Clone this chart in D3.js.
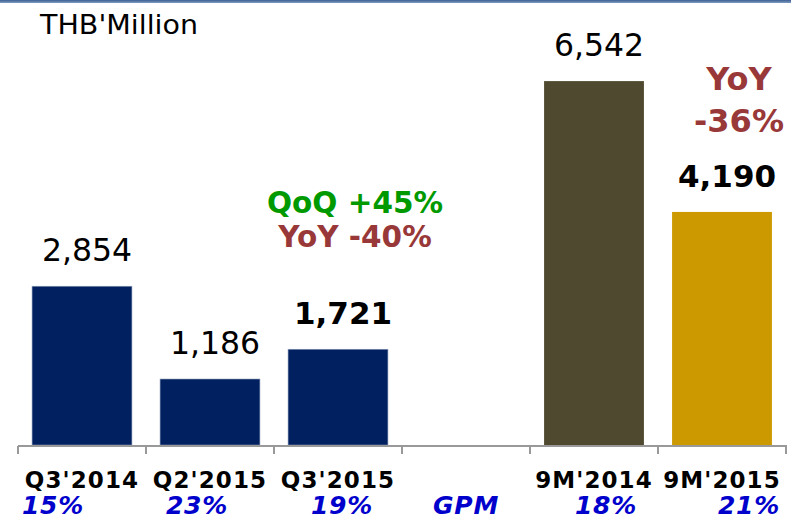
<!DOCTYPE html>
<html>
<head>
<meta charset="utf-8">
<script src="https://cdn.jsdelivr.net/npm/d3@7"></script>
<style>
  html, body { margin: 0; padding: 0; background: #fff; }
  svg { display: block; font-family: "DejaVu Sans", Verdana, sans-serif; }
</style>
</head>
<body>
<svg id="chart" width="791" height="519"></svg>
<script>
// ---- data ----
const categories = ["Q3'2014", "Q2'2015", "Q3'2015", "", "9M'2014", "9M'2015"];
const revenue    = [2854, 1186, 1721, null, 6542, 4190];
const valueLabels = ["2,854", "1,186", "1,721", "", "6,542", "4,190"];
const boldLabel  = [false, false, true, false, false, true];
const gpmLabels  = ["15%", "23%", "19%", "GPM", "18%", "21%"];
const unitLabel  = "THB'Million";
const qoqText    = "QoQ +45%";
const yoyQText   = "YoY -40%";
const yoy9MText  = ["YoY", "-36%"];

// ---- styling ----
const barColors = ["#00205F", "#00205F", "#00205F", "none", "#4F4A2F", "#CC9900"];
const gpmOffset = [-29, -13, 4, 0, 12, 27]; // label nudges as laid out in the source

const svg = d3.select("#chart");
const W = 791, H = 519;

// top border band
const grad = svg.append("defs").append("linearGradient")
  .attr("id", "topg").attr("x1", 0).attr("x2", 0).attr("y1", 0).attr("y2", 1);
grad.append("stop").attr("offset", "0%").attr("stop-color", "#3d5f93");
grad.append("stop").attr("offset", "100%").attr("stop-color", "#7f9cc4");
svg.append("rect").attr("x", 0).attr("y", 0).attr("width", W).attr("height", 3)
  .attr("fill", "url(#topg)");

const x = d3.scaleBand().domain(d3.range(categories.length))
  .range([18, 786]).paddingInner(0.22).paddingOuter(0.11);
const y = d3.scaleLinear().domain([0, 8000]).range([445, 0]);

// bars
const idx = d3.range(categories.length).filter(i => revenue[i] != null);
svg.append("g").selectAll("rect").data(idx).join("rect")
  .attr("x", i => x(i))
  .attr("width", x.bandwidth())
  .attr("y", i => y(revenue[i]))
  .attr("height", i => y(0) - y(revenue[i]))
  .attr("fill", i => barColors[i])
  .attr("stroke", i => i < 3 ? "#8795b5" : "none")
  .attr("stroke-width", 0.6);

// axis
const axisG = svg.append("g").attr("transform", `translate(0,${y(0) + 1})`);
axisG.append("line").attr("x1", 18).attr("x2", 787).attr("y1", 0).attr("y2", 0)
  .attr("stroke", "#999").attr("stroke-width", 2);
const tickX = d3.range(categories.length + 1).map(k => 18 + k * x.step());
axisG.selectAll("line.tick").data(tickX).join("line").attr("class", "tick")
  .attr("x1", d => d).attr("x2", d => d).attr("y1", 0).attr("y2", 8)
  .attr("stroke", "#999").attr("stroke-width", 2);

// category labels
svg.append("g").selectAll("text").data(d3.range(categories.length)).join("text")
  .attr("x", i => x(i) + x.bandwidth() / 2)
  .attr("y", 488)
  .attr("text-anchor", "middle")
  .attr("font-size", 23).attr("font-weight", "bold")
  .attr("letter-spacing", 1.1)
  .attr("fill", "#000")
  .text(i => categories[i]);

// GPM labels
svg.append("g").selectAll("text").data(d3.range(gpmLabels.length)).join("text")
  .attr("x", i => x(i) + x.bandwidth() / 2 + gpmOffset[i])
  .attr("y", 514)
  .attr("text-anchor", "middle")
  .attr("font-size", 25).attr("font-weight", "bold").attr("font-style", "italic")
  .attr("letter-spacing", 0.8)
  .attr("fill", "#0000CC")
  .text(i => gpmLabels[i]);

// value labels
svg.append("g").selectAll("text").data(idx).join("text")
  .attr("x", i => x(i) + x.bandwidth() / 2 + 5)
  .attr("y", i => y(revenue[i]) - 25)
  .attr("text-anchor", "middle")
  .attr("font-size", i => boldLabel[i] ? 31 : 31.5)
  .attr("font-weight", i => boldLabel[i] ? "bold" : "normal")
  .attr("fill", "#000")
  .text(i => valueLabels[i]);

// unit label
svg.append("text").attr("x", 40).attr("y", 34)
  .attr("font-size", 26).attr("fill", "#000")
  .attr("textLength", 158).attr("lengthAdjust", "spacingAndGlyphs")
  .text(unitLabel);

// QoQ / YoY annotations
const cx = x(2) + x.bandwidth() / 2 + 17;
svg.append("text").attr("x", cx).attr("y", 213).attr("text-anchor", "middle")
  .attr("font-size", 29.5).attr("font-weight", "bold").attr("fill", "#009900")
  .text(qoqText);
svg.append("text").attr("x", cx).attr("y", 247).attr("text-anchor", "middle")
  .attr("font-size", 29.5).attr("font-weight", "bold").attr("fill", "#993838")
  .text(yoyQText);
const cx9 = x(5) + x.bandwidth() / 2 + 17;
svg.append("g").selectAll("text").data(yoy9MText).join("text")
  .attr("x", cx9).attr("y", (d, k) => 90 + k * 42)
  .attr("text-anchor", "middle")
  .attr("font-size", 32).attr("font-weight", "bold").attr("fill", "#993838")
  .text(d => d);
</script>
</body>
</html>
